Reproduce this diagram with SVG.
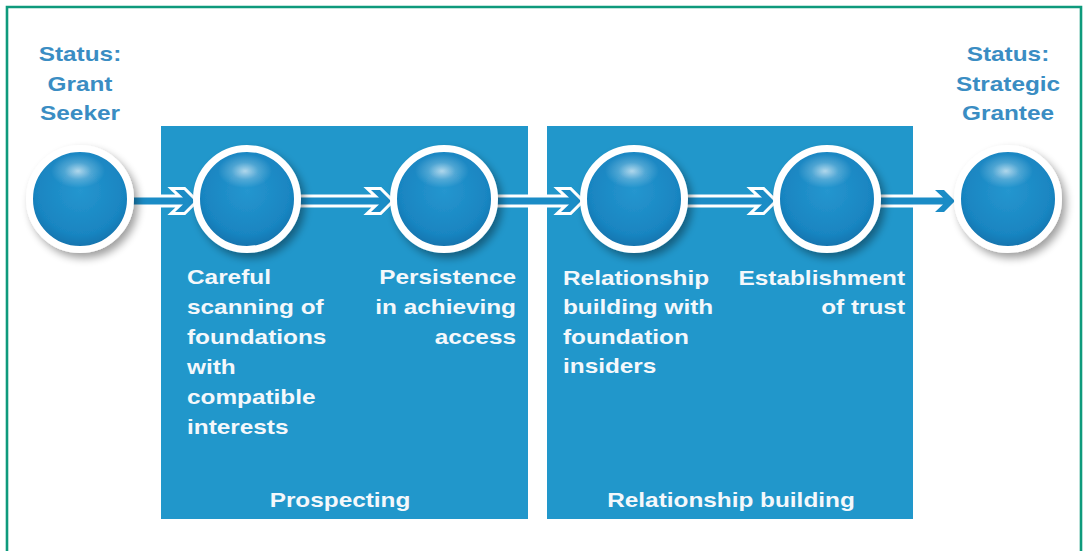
<svg xmlns="http://www.w3.org/2000/svg" width="1086" height="551" viewBox="0 0 1086 551">
<defs>
<radialGradient id="sphere" cx="50%" cy="42%" r="58%">
<stop offset="0" stop-color="#2596cf"/>
<stop offset="0.75" stop-color="#1985c1"/>
<stop offset="1" stop-color="#1270aa"/>
</radialGradient>
<radialGradient id="hl" cx="50%" cy="50%" r="50%">
<stop offset="0" stop-color="#ffffff" stop-opacity="0.65"/>
<stop offset="0.5" stop-color="#ffffff" stop-opacity="0.22"/>
<stop offset="1" stop-color="#ffffff" stop-opacity="0"/>
</radialGradient>
<filter id="shadow" x="-30%" y="-30%" width="170%" height="170%">
<feGaussianBlur in="SourceAlpha" stdDeviation="4"/>
<feOffset dx="4" dy="5" result="b"/>
<feComponentTransfer><feFuncA type="linear" slope="0.38"/></feComponentTransfer>
<feMerge><feMergeNode/><feMergeNode in="SourceGraphic"/></feMerge>
</filter>
<g id="ball">
<circle r="50.5" fill="url(#sphere)" stroke="#ffffff" stroke-width="7" filter="url(#shadow)"/>
<ellipse cx="-2" cy="-28" rx="27" ry="17" fill="url(#hl)"/>
</g>
</defs>
<style>
.panel{fill:#2197cb}
.status{font-family:"Liberation Sans",Arial,sans-serif;font-weight:bold;font-size:21px;fill:#3a8dc3;text-anchor:middle}
.lbl{font-family:"Liberation Sans",Arial,sans-serif;font-weight:bold;font-size:21px;fill:#f4f8fb}
.mid{text-anchor:middle}
.end{text-anchor:end}
.arrow{fill:#1b8cc6;stroke:#ffffff;stroke-width:6;stroke-linejoin:miter;paint-order:stroke}
</style>
<rect x="0" y="0" width="1086" height="551" fill="#ffffff"/>
<path d="M7,551 V7 H1081 V551" fill="none" stroke="#0e9a7c" stroke-width="2.6"/>

<g id="panel-prospecting">
<rect class="panel" x="161" y="126" width="367" height="393"/>
<g transform="translate(340,0) scale(1.16,1)"><text class="lbl mid" x="0" y="507">Prospecting</text></g>
</g>
<g id="panel-relationship">
<rect class="panel" x="547" y="126" width="366" height="393"/>
<g transform="translate(731,0) scale(1.16,1)"><text class="lbl mid" x="0" y="507">Relationship building</text></g>
</g>

<g id="connectors">
<path class="arrow" d="M129,197.5 H183 L175,190 H184 L195,201 L184,212 H175 L183,204.5 H129 Z"/>
<path class="arrow" d="M296,197.5 H379 L371,190 H380 L391,201 L380,212 H371 L379,204.5 H296 Z"/>
<path class="arrow" d="M493,197.5 H569 L561,190 H570 L581,201 L570,212 H561 L569,204.5 H493 Z"/>
<path class="arrow" d="M683,197.5 H762 L754,190 H763 L774,201 L763,212 H754 L762,204.5 H683 Z"/>
<path class="arrow" d="M876,197.5 H943 L935,190 H944 L955,201 L944,212 H935 L943,204.5 H876 Z"/>
</g>

<g id="node-grant-seeker">
<use href="#ball" x="80" y="199"/>
<g transform="translate(80,0) scale(1.16,1)"><text class="status"><tspan x="0" y="61">Status:</tspan><tspan x="0" y="91">Grant</tspan><tspan x="0" y="120">Seeker</tspan></text></g>
</g>
<g id="node-scanning">
<use href="#ball" x="247" y="199"/>
<g transform="translate(187,0) scale(1.16,1)"><text class="lbl"><tspan x="0" y="284">Careful</tspan><tspan x="0" y="314">scanning of</tspan><tspan x="0" y="344">foundations</tspan><tspan x="0" y="374">with</tspan><tspan x="0" y="404">compatible</tspan><tspan x="0" y="434">interests</tspan></text></g>
</g>
<g id="node-persistence">
<use href="#ball" x="444" y="199"/>
<g transform="translate(516,0) scale(1.16,1)"><text class="lbl end"><tspan x="0" y="284">Persistence</tspan><tspan x="0" y="314">in achieving</tspan><tspan x="0" y="344">access</tspan></text></g>
</g>
<g id="node-insiders">
<use href="#ball" x="634" y="199"/>
<g transform="translate(563,0) scale(1.16,1)"><text class="lbl"><tspan x="0" y="285">Relationship</tspan><tspan x="0" y="314">building with</tspan><tspan x="0" y="344">foundation</tspan><tspan x="0" y="373">insiders</tspan></text></g>
</g>
<g id="node-trust">
<use href="#ball" x="827" y="199"/>
<g transform="translate(905,0) scale(1.16,1)"><text class="lbl end"><tspan x="0" y="285">Establishment</tspan><tspan x="0" y="314">of trust</tspan></text></g>
</g>
<g id="node-strategic-grantee">
<use href="#ball" x="1008" y="199"/>
<g transform="translate(1008,0) scale(1.16,1)"><text class="status"><tspan x="0" y="61">Status:</tspan><tspan x="0" y="91">Strategic</tspan><tspan x="0" y="120">Grantee</tspan></text></g>
</g>
</svg>
